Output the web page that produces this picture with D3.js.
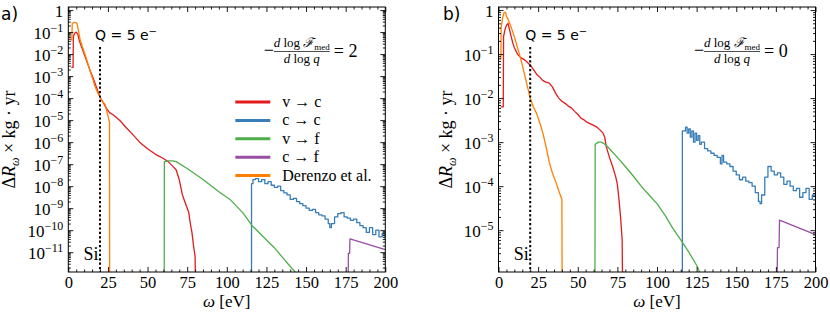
<!DOCTYPE html>
<html>
<head>
<meta charset="utf-8">
<script src="https://cdnjs.cloudflare.com/ajax/libs/d3/7.8.5/d3.min.js"></script>
<style>
  body { margin: 0; background: #fff; }
  svg text { font-family: "Liberation Serif", "DejaVu Serif", serif; fill: #000; }
  .sans { font-family: "DejaVu Sans", "Noto Sans", sans-serif !important; }
</style>
</head>
<body>
<div id="chartDiv"></div>
<script>

// ---- data (omega in eV, rate per kg-yr) ----
const omegaTicks = [0, 25, 50, 75, 100, 125, 150, 175, 200];
const seriesNames = ['v → c', 'c → c', 'v → f', 'c → f', 'Derenzo et al.'];
const seriesColors = ['#e41a1c', '#377eb8', '#4daf4a', '#984ea3', '#ff7f00'];
const qThreshold = 20;            // Q = 5 e- line
const slopeValues = ['2', '0'];
const yTickExpA = [0, -1, -2, -3, -4, -5, -6, -7, -8, -9, -10, -11];
const yTickExpB = [0, -1, -2, -3, -4, -5];

// panel a : -dlogF/dlogq = 2
const aVtoC = [[1.9,2.5e-3],[3.0,2.5e-3],[3.2,6.3e-2],[4,8.9e-2],[5,1.0e-1],[6,7.9e-2],[7,4.0e-2],[8,2.5e-2],
  [10,1.0e-2],[12,4.0e-3],[14,1.6e-3],[16,7.1e-4],[18,2.8e-4],[20,1.1e-4],[22,6.3e-5],[24,3.5e-5],[26,2.2e-5],
  [28,1.8e-5],[30,1.4e-5],[33,8.9e-6],[36,5.0e-6],[40,2.5e-6],[45,1.0e-6],[50,5.0e-7],[55,2.8e-7],[60,1.8e-7],
  [63,1.3e-7],[66,7.9e-8],[68,5.6e-8],[70,2.0e-8],[72,4.0e-9],[74,1.6e-9],[76,6.3e-10],[77,2.0e-10],[78,7.9e-11],
  [79,2.0e-11],[80,6.3e-12],[80.3,1e-13]];
const aCtoC = [[115.5,1e-13],[115.6,1.3e-8],[116.5,2.0e-8],[118,2.2e-8],[120,1.6e-8],[122,2.0e-8],[124,1.3e-8],
  [126,1.6e-8],[128,1.1e-8],[130,8.9e-9],[132,1.0e-8],[134,6.3e-9],[136,5.0e-9],[138,4.0e-9],[140,2.5e-9],
  [142,2.8e-9],[144,2.0e-9],[146,1.6e-9],[148,1.3e-9],[150,1.0e-9],[152,7.9e-10],[154,8.9e-10],[156,6.3e-10],
  [158,5.0e-10],[160,4.5e-10],[162,3.2e-10],[164,2.0e-10],[165,1.3e-10],[166,2.0e-10],[168,4.0e-10],[170,5.6e-10],
  [172,6.3e-10],[174,4.0e-10],[176,3.5e-10],[178,2.8e-10],[180,3.2e-10],[182,2.2e-10],[184,1.6e-10],[186,1.3e-10],
  [188,7.9e-11],[190,1.3e-10],[192,6.3e-11],[194,1.0e-10],[196,5.0e-11],[198,7.1e-11],[200,3.5e-11]];
const aVtoF = [[60.5,1e-13],[60.6,1.3e-7],[63,1.4e-7],[66,1.4e-7],[68,1.3e-7],[75,6.3e-8],[85,2.0e-8],[95,5.6e-9],
  [102,2.5e-9],[110,6.3e-10],[116,1.6e-10],[123,5.0e-11],[130,1.6e-11],[137,4.0e-12],[143,1.3e-12],[146,5e-13]];
const aCtoF = [[176.5,1e-13],[176.7,8.9e-12],[177.5,8.9e-12],[177.7,4.0e-11],[200,1.3e-11]];
const aDerenzo = [[1.2,4.4e-2],[2.2,4.4e-2],[2.5,2.5e-1],[4,2.8e-1],[5.5,2.5e-1],[7.5,4.4e-2],[9,2.0e-2],
  [10.7,8.9e-3],[12,4.5e-3],[13.9,1.6e-3],[15.5,7.1e-4],[17,3.2e-4],[18.5,1.8e-4],[20,1.1e-4],[21.5,7.1e-5],
  [23.3,5.0e-5],[24.5,2.2e-5],[26,7.9e-6],[26.1,1e-13]];

// panel b : -dlogF/dlogq = 0
const bVtoC = [[1.4,6.3e-3],[3,6.3e-3],[3.2,2.5e-1],[4,3.5e-1],[5,4.5e-1],[6,5.0e-1],[7,3.5e-1],[8,2.5e-1],
  [9,1.8e-1],[10,1.4e-1],[12,1.0e-1],[14,8.3e-2],[16,7.6e-2],[18,6.6e-2],[20,5.6e-2],[22,4.5e-2],[24,3.5e-2],
  [26,3.0e-2],[28,2.5e-2],[30,2.3e-2],[32,2.2e-2],[34,1.8e-2],[36,1.3e-2],[38,1.0e-2],[40,8.5e-3],[42,7.6e-3],
  [44,6.6e-3],[46,6.0e-3],[48,5.0e-3],[50,4.3e-3],[52,3.5e-3],[54,3.2e-3],[56,2.8e-3],[58,2.6e-3],[60,2.4e-3],
  [62,2.2e-3],[64,1.9e-3],[66,1.6e-3],[67,1.3e-3],[68,7.9e-4],[70,4.5e-4],[72,2.8e-4],[74,1.6e-4],[75,1.1e-4],
  [76,5.0e-5],[77,2.0e-5],[78,6.3e-6],[78.5,1e-7]];
const bCtoC = [[115.5,1e-7],[116,1.8e-3],[117,1.8e-3],[118,2.2e-3],[119,1.6e-3],[120,2.0e-3],[121,1.3e-3],
  [122,1.8e-3],[123,1.0e-3],[124,1.6e-3],[125,1.1e-3],[126,1.4e-3],[127,8.9e-4],[128,1.0e-3],[130,7.1e-4],
  [132,6.3e-4],[134,5.6e-4],[136,5.0e-4],[138,4.5e-4],[140,3.2e-4],[141,5.0e-4],[142,3.5e-4],[144,3.2e-4],
  [146,2.8e-4],[148,2.2e-4],[150,1.8e-4],[152,1.4e-4],[154,1.6e-4],[156,1.3e-4],[158,1.2e-4],[160,1.0e-4],
  [162,7.1e-5],[164,4.5e-5],[165,4.0e-5],[166,6.3e-5],[168,1.6e-4],[170,2.8e-4],[172,2.2e-4],[174,1.8e-4],
  [176,2.0e-4],[178,1.6e-4],[180,1.1e-4],[182,1.3e-4],[184,1.0e-4],[186,7.9e-5],[188,8.9e-5],[190,5.6e-5],
  [192,7.1e-5],[194,8.9e-5],[196,5.0e-5],[198,6.3e-5],[200,2.5e-5]];
const bVtoF = [[60.8,1e-7],[61,8.9e-4],[63,1.0e-3],[65,1.0e-3],[68,8.5e-4],[70,7.1e-4],[75,4.5e-4],[80,2.8e-4],
  [85,1.7e-4],[90,1.0e-4],[95,6.3e-5],[100,4.0e-5],[105,2.2e-5],[110,1.1e-5],[115,6.0e-6],[120,3.2e-6],
  [125,1.6e-6],[127,1.1e-6],[128,5e-7]];
const bCtoF = [[175.5,1e-7],[176,4.0e-6],[177,4.0e-6],[177.3,1.7e-5],[200,7.9e-6]];
const bDerenzo = [[0.8,7.9e-2],[1.5,7.9e-2],[1.7,4.0e-1],[2.5,6.3e-1],[3.5,8.9e-1],[4.5,8.9e-1],[5,7.1e-1],
  [6,6.3e-1],[7,5.0e-1],[8,4.0e-1],[9,3.2e-1],[10,2.5e-1],[12,1.4e-1],[14,7.9e-2],[16,4.0e-2],[18,2.0e-2],
  [20,1.0e-2],[22,6.3e-3],[24,4.5e-3],[26,2.8e-3],[28,1.6e-3],[30,7.9e-4],[32,3.5e-4],[34,2.0e-4],[36,1.3e-4],
  [38,7.9e-5],[40,5.0e-5],[40.2,1e-7]];

// ---- layout ----
const W = 830, H = 317;
const plotTop = 7, plotBottom = 272, plotW = 317;

const panels = [
  { tag: 'a)', left: 68.3, tagX: 1, ylabX: 15, yDomain: [Math.pow(10, -11.9), Math.pow(10, 0.14)], yExp: yTickExpA,
    series: [aVtoC, aCtoC, aVtoF, aCtoF, aDerenzo], slope: slopeValues[0], legend: true },
  { tag: 'b)', left: 498.5, tagX: 443, ylabX: 452, yDomain: [Math.pow(10, -5.95), Math.pow(10, 0.07)], yExp: yTickExpB,
    series: [bVtoC, bCtoC, bVtoF, bCtoF, bDerenzo], slope: slopeValues[1], legend: false }
];

const svg = d3.select('#chartDiv').append('svg')
  .attr('width', W).attr('height', H);

function minorTicks(domain) {
  const out = [];
  const lo = Math.floor(Math.log10(domain[0])), hi = Math.ceil(Math.log10(domain[1]));
  for (let k = lo; k <= hi; k++) {
    for (let j = 2; j <= 9; j++) {
      const v = j * Math.pow(10, k);
      if (v >= domain[0] && v <= domain[1]) out.push(v);
    }
  }
  return out;
}

function styleAxis(sel, size) {
  sel.select('.domain').remove();
  sel.selectAll('line').attr('stroke', '#000').attr('stroke-width', 0.9);
  sel.selectAll('text').attr('font-size', size || 17).attr('font-family', '"Liberation Serif", serif');
}

panels.forEach((p, pi) => {
  const h = plotBottom - plotTop;
  const x = d3.scaleLinear().domain([0, 200]).range([0, plotW]);
  const y = d3.scaleLog().domain(p.yDomain).range([h, 0]);

  const g = svg.append('g').attr('transform', `translate(${p.left},${plotTop})`);

  g.append('clipPath').attr('id', 'clip' + pi)
    .append('rect').attr('width', plotW).attr('height', h);

  // curves
  const line = d3.line().x(d => x(d[0])).y(d => y(d[1]));
  const curvesG = g.append('g').attr('clip-path', `url(#clip${pi})`);
  p.series.forEach((s, i) => {
    curvesG.append('path')
      .attr('d', line.curve(i === 1 ? d3.curveStepAfter : d3.curveLinear)(s))
      .attr('fill', 'none')
      .attr('stroke', seriesColors[i])
      .attr('stroke-width', 1.3)
      .attr('stroke-linejoin', 'round');
  });

  // axes, ticks pointing in on all four sides
  const xMinor = d3.range(0, 201, 5).filter(v => v % 25 !== 0);
  const yMajor = p.yExp.map(k => Math.pow(10, k));
  const yMinor = minorTicks(p.yDomain);

  g.append('g').attr('transform', `translate(0,${h})`)
    .call(d3.axisBottom(x).tickValues(omegaTicks).tickSizeInner(-5).tickSizeOuter(0).tickPadding(4).tickFormat(d3.format('d')))
    .call(styleAxis, 16.5);
  g.append('g').attr('transform', `translate(0,${h})`)
    .call(d3.axisBottom(x).tickValues(xMinor).tickSizeInner(-2.5).tickSizeOuter(0).tickFormat(''))
    .call(styleAxis);
  g.append('g')
    .call(d3.axisTop(x).tickValues(omegaTicks).tickSizeInner(-5).tickSizeOuter(0).tickFormat(''))
    .call(styleAxis);
  g.append('g')
    .call(d3.axisTop(x).tickValues(xMinor).tickSizeInner(-2.5).tickSizeOuter(0).tickFormat(''))
    .call(styleAxis);

  const yAx = g.append('g')
    .call(d3.axisLeft(y).tickValues(yMajor).tickSizeInner(-5).tickSizeOuter(0).tickPadding(5).tickFormat(''))
    .call(styleAxis);
  yAx.selectAll('.tick text').each(function (d) {
    const k = Math.round(Math.log10(d));
    const t = d3.select(this).text(null).attr('dy', '0.36em');
    if (k === 0) { t.text('1'); return; }
    t.append('tspan').text('10');
    t.append('tspan').attr('dy', '-0.55em').attr('font-size', 12).text('−' + Math.abs(k));
  });
  g.append('g')
    .call(d3.axisLeft(y).tickValues(yMinor).tickSizeInner(-2.5).tickSizeOuter(0).tickFormat(''))
    .call(styleAxis);
  g.append('g').attr('transform', `translate(${plotW},0)`)
    .call(d3.axisRight(y).tickValues(yMajor).tickSizeInner(-5).tickSizeOuter(0).tickFormat(''))
    .call(styleAxis);
  g.append('g').attr('transform', `translate(${plotW},0)`)
    .call(d3.axisRight(y).tickValues(yMinor).tickSizeInner(-2.5).tickSizeOuter(0).tickFormat(''))
    .call(styleAxis);

  g.append('rect').attr('width', plotW).attr('height', h)
    .attr('fill', 'none').attr('stroke', '#000').attr('stroke-width', 1);

  // Q = 5 e- threshold
  const qx = x(qThreshold);
  g.append('line')
    .attr('x1', qx).attr('x2', qx).attr('y1', 40).attr('y2', h)
    .attr('stroke', '#000').attr('stroke-width', 2).attr('stroke-dasharray', '2.2,2.2');
  g.append('text').attr('class', 'sans')
    .attr('x', qx - 5).attr('y', 33).attr('font-size', 14)
    .text('Q = 5 e').append('tspan').attr('dy', -5).attr('font-size', 10).text('−');
  g.append('text')
    .attr('x', qx - 1.5).attr('y', h - 12).attr('text-anchor', 'end').attr('font-size', 18)
    .text('Si');

  // slope annotation
  const cx = plotW - 83.5;
  g.append('text').attr('x', cx - 38).attr('y', 49).attr('font-size', 18).text('−');
  const num = g.append('text').attr('x', cx).attr('y', 40).attr('text-anchor', 'middle').attr('font-size', 13);
  num.append('tspan').attr('font-style', 'italic').text('d');
  num.append('tspan').text(' log ');
  num.append('tspan').attr('font-style', 'italic').text('ℱ');
  num.append('tspan').attr('font-size', 9).attr('dy', 3).text('med');
  g.append('line').attr('x1', cx - 28).attr('x2', cx + 28).attr('y1', 44.5).attr('y2', 44.5)
    .attr('stroke', '#000').attr('stroke-width', 0.7);
  const den = g.append('text').attr('x', cx).attr('y', 56).attr('text-anchor', 'middle').attr('font-size', 13);
  den.append('tspan').attr('font-style', 'italic').text('d');
  den.append('tspan').text(' log ');
  den.append('tspan').attr('font-style', 'italic').text('q');
  g.append('text').attr('x', cx + 32).attr('y', 50).attr('font-size', 18).text('= ' + p.slope);

  // axis labels
  g.append('text')
    .attr('x', plotW / 2).attr('y', h + 35).attr('text-anchor', 'middle').attr('font-size', 17)
    .call(t => {
      t.append('tspan').attr('font-style', 'italic').text('ω');
      t.append('tspan').text(' [eV]');
    });

  const yl = svg.append('text')
    .attr('transform', `translate(${p.ylabX},${plotTop + h / 2}) rotate(-90)`)
    .attr('text-anchor', 'middle').attr('font-size', 18);
  yl.append('tspan').text('Δ');
  yl.append('tspan').attr('font-style', 'italic').text('R');
  yl.append('tspan').attr('font-style', 'italic').attr('font-size', 12).attr('dy', 4).text('ω');
  yl.append('tspan').attr('dy', -4).text(' × kg · yr');

  svg.append('text').attr('class', 'sans')
    .attr('x', p.tagX).attr('y', 20).attr('font-size', 17).text(p.tag);

  // legend
  if (p.legend) {
    const lg = g.append('g').attr('transform', 'translate(167,95)');
    seriesNames.forEach((name, i) => {
      const row = lg.append('g').attr('transform', `translate(0,${i * 18.4})`);
      row.append('line').attr('x1', 0).attr('x2', 35).attr('y1', 0).attr('y2', 0)
        .attr('stroke', seriesColors[i]).attr('stroke-width', 3);
      row.append('text').attr('x', 47).attr('y', 5).attr('font-size', 16).text(name);
    });
  }
});
</script>
</body>
</html>
